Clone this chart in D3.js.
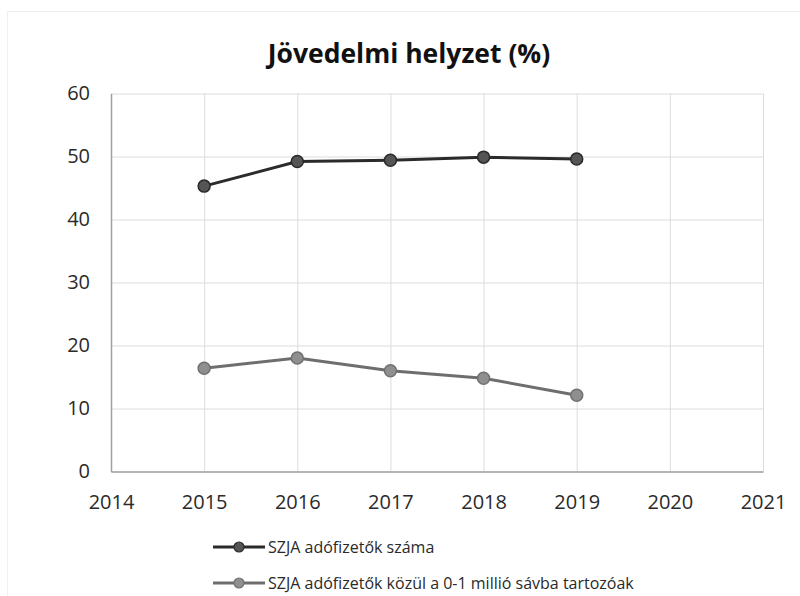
<!DOCTYPE html>
<html>
<head>
<meta charset="utf-8">
<script src="https://cdn.jsdelivr.net/npm/d3@7"></script>
<style>
  body { margin: 0; background: #fff; }
  svg { display: block; font-family: "Open Sans", "Noto Sans", sans-serif; }
</style>
</head>
<body>
<div id="chart"></div>
<script>
// data
const years = [2015, 2016, 2017, 2018, 2019];
const szjaTotal = [45.3, 49.2, 49.4, 49.9, 49.6];
const szjaLow = [16.4, 18.0, 16.0, 14.8, 12.1];
const seriesNames = ['SZJA adófizetők száma', 'SZJA adófizetők közül a 0-1 millió sávba tartozóak'];
const xTicks = [2014, 2015, 2016, 2017, 2018, 2019, 2020, 2021];
const yTicks = [0, 10, 20, 30, 40, 50, 60];

const width = 800, height = 596;
const margin = { top: 93.5, right: 37, bottom: 124.5, left: 111 };
const graphWidth = width - margin.left - margin.right;
const graphHeight = height - margin.top - margin.bottom;

const svg = d3.select('#chart')
    .append('svg')
    .attr('width', width)
    .attr('height', height);

// faint frame of the pasted chart
svg.append('rect')
    .attr('x', 7.5).attr('y', 11.5)
    .attr('width', 900).attr('height', 700)
    .attr('fill', 'none')
    .attr('stroke', '#efefef');

svg.append('text')
    .attr('x', 409)
    .attr('y', 63)
    .attr('text-anchor', 'middle')
    .attr('font-size', 26.5)
    .attr('font-weight', 'bold')
    .attr('fill', '#111')
    .text('Jövedelmi helyzet (%)');

const graph = svg.append('g')
    .attr('transform', `translate(${margin.left}, ${margin.top})`);

//scales
const x = d3.scaleLinear().domain([2014, 2021]).range([0, graphWidth]);
const y = d3.scaleLinear().domain([0, 60]).range([graphHeight, 0]);

// gridlines
graph.append('g')
    .attr('class', 'grid-y')
    .call(d3.axisLeft(y).tickValues(yTicks).tickSize(-graphWidth).tickFormat(''))
    .call(g => g.select('.domain').remove())
    .call(g => g.selectAll('line').attr('stroke', '#dcdcdc'));

graph.append('g')
    .attr('class', 'grid-x')
    .attr('transform', `translate(0, ${graphHeight})`)
    .call(d3.axisBottom(x).tickValues(xTicks).tickSize(-graphHeight).tickFormat(''))
    .call(g => g.select('.domain').remove())
    .call(g => g.selectAll('line').attr('stroke', '#dcdcdc'));

// axes
const xAxisGroup = graph.append('g')
    .attr('transform', `translate(0, ${graphHeight})`)
    .call(d3.axisBottom(x).tickValues(xTicks).tickSize(0).tickPadding(23).tickFormat(d3.format('d')));

const yAxisGroup = graph.append('g')
    .call(d3.axisLeft(y).tickValues(yTicks).tickSize(0).tickPadding(21));

[xAxisGroup, yAxisGroup].forEach(g => {
    g.select('.domain').attr('stroke', '#a0a0a0').attr('stroke-width', 1.5);
    g.selectAll('text').attr('font-size', 20).attr('fill', '#2a2a2a')
        .attr('font-family', '"Open Sans", sans-serif');
});

const line = d3.line()
    .x((d, i) => x(years[i]))
    .y(d => y(d));

const series = [
    { values: szjaTotal, stroke: '#2b2b2b', fill: '#555', outline: '#2a2a2a' },
    { values: szjaLow, stroke: '#6e6e6e', fill: '#8f8f8f', outline: '#707070' }
];

series.forEach(s => {
    graph.append('path')
        .datum(s.values)
        .attr('fill', 'none')
        .attr('stroke', s.stroke)
        .attr('stroke-width', 3)
        .attr('d', line);

    graph.selectAll(null)
        .data(s.values)
        .enter()
        .append('circle')
        .attr('cx', (d, i) => x(years[i]))
        .attr('cy', d => y(d))
        .attr('r', 6)
        .attr('fill', s.fill)
        .attr('stroke', s.outline)
        .attr('stroke-width', 1.5);
});

// legend
const legend = svg.append('g')
    .attr('transform', 'translate(213, 547)');

series.forEach((s, i) => {
    const row = legend.append('g').attr('transform', `translate(0, ${i * 36})`);
    row.append('line')
        .attr('x1', 0).attr('x2', 52)
        .attr('stroke', s.stroke)
        .attr('stroke-width', 3);
    row.append('circle')
        .attr('cx', 26).attr('r', 5)
        .attr('fill', s.fill)
        .attr('stroke', s.outline)
        .attr('stroke-width', 1.2);
    row.append('text')
        .attr('x', 55)
        .attr('dy', '0.35em')
        .attr('font-size', 16)
        .attr('fill', '#2a2a2a')
        .text(seriesNames[i]);
});
</script>
</body>
</html>
